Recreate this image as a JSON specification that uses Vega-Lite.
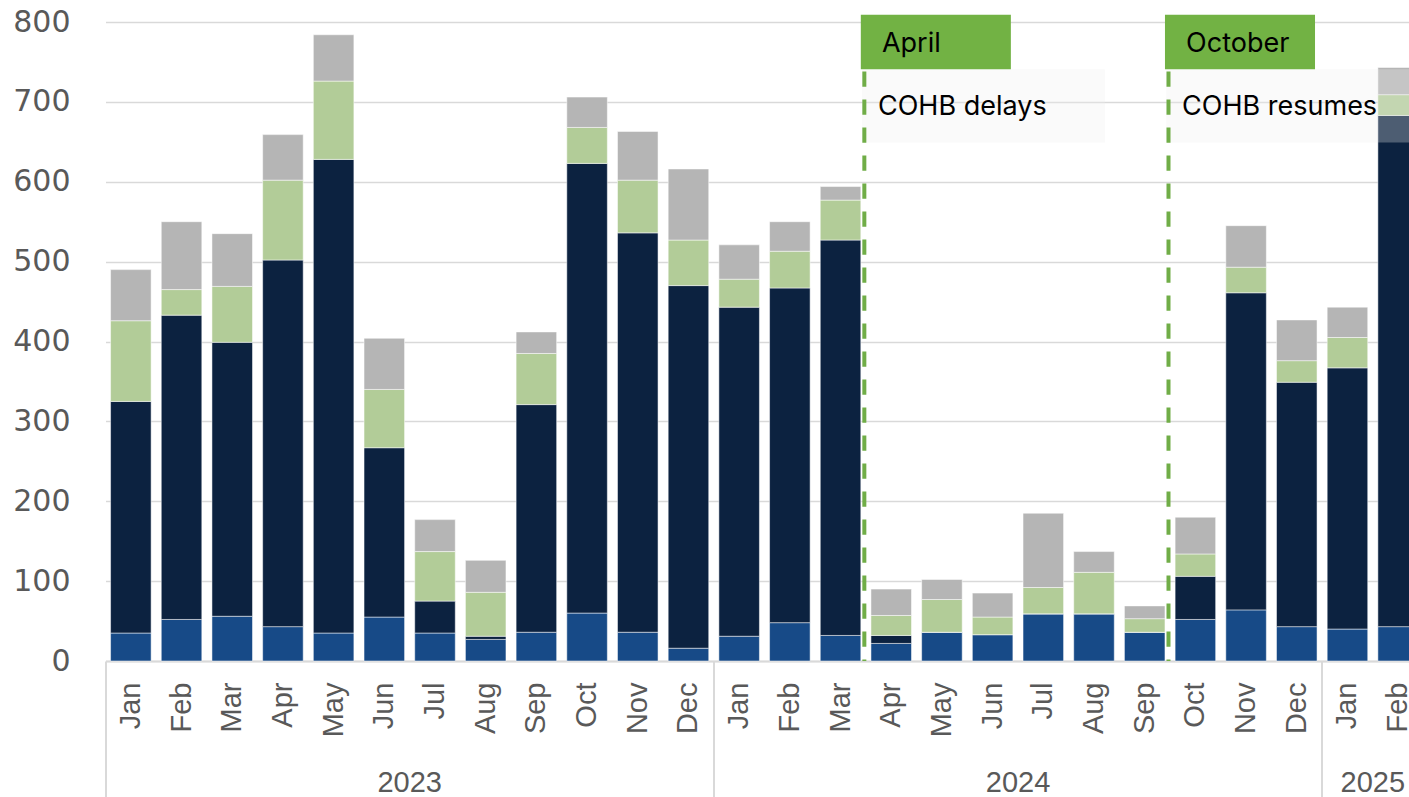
{
  "$schema": "https://vega.github.io/schema/vega-lite/v6.json",
  "width": 1318,
  "height": 639,
  "autosize": {"type": "none"},
  "padding": {"left": 105.5, "top": 22, "right": -14.5, "bottom": 136},
  "background": "white",
  "config": {"view": {"stroke": null}, "font": "Liberation Sans"},
  "datasets": {
    "monthly": [
      {"period": "2023-01", "Series 1": 35, "Series 2": 290, "Series 3": 101, "Series 4": 64},
      {"period": "2023-02", "Series 1": 52, "Series 2": 381, "Series 3": 32, "Series 4": 85},
      {"period": "2023-03", "Series 1": 56, "Series 2": 343, "Series 3": 70, "Series 4": 66},
      {"period": "2023-04", "Series 1": 43, "Series 2": 459, "Series 3": 100, "Series 4": 57},
      {"period": "2023-05", "Series 1": 35, "Series 2": 593, "Series 3": 98, "Series 4": 58},
      {"period": "2023-06", "Series 1": 55, "Series 2": 212, "Series 3": 73, "Series 4": 64},
      {"period": "2023-07", "Series 1": 35, "Series 2": 40, "Series 3": 62, "Series 4": 40},
      {"period": "2023-08", "Series 1": 27, "Series 2": 4, "Series 3": 55, "Series 4": 40},
      {"period": "2023-09", "Series 1": 36, "Series 2": 285, "Series 3": 64, "Series 4": 27},
      {"period": "2023-10", "Series 1": 60, "Series 2": 563, "Series 3": 45, "Series 4": 38},
      {"period": "2023-11", "Series 1": 36, "Series 2": 500, "Series 3": 66, "Series 4": 61},
      {"period": "2023-12", "Series 1": 16, "Series 2": 454, "Series 3": 57, "Series 4": 89},
      {"period": "2024-01", "Series 1": 31, "Series 2": 412, "Series 3": 35, "Series 4": 43},
      {"period": "2024-02", "Series 1": 48, "Series 2": 419, "Series 3": 46, "Series 4": 37},
      {"period": "2024-03", "Series 1": 32, "Series 2": 495, "Series 3": 50, "Series 4": 17},
      {"period": "2024-04", "Series 1": 22, "Series 2": 10, "Series 3": 25, "Series 4": 33},
      {"period": "2024-05", "Series 1": 36, "Series 2": 0, "Series 3": 41, "Series 4": 25},
      {"period": "2024-06", "Series 1": 33, "Series 2": 0, "Series 3": 22, "Series 4": 30},
      {"period": "2024-07", "Series 1": 59, "Series 2": 0, "Series 3": 33, "Series 4": 93},
      {"period": "2024-08", "Series 1": 59, "Series 2": 0, "Series 3": 52, "Series 4": 26},
      {"period": "2024-09", "Series 1": 36, "Series 2": 0, "Series 3": 17, "Series 4": 16},
      {"period": "2024-10", "Series 1": 52, "Series 2": 54, "Series 3": 28, "Series 4": 46},
      {"period": "2024-11", "Series 1": 64, "Series 2": 397, "Series 3": 32, "Series 4": 52},
      {"period": "2024-12", "Series 1": 43, "Series 2": 306, "Series 3": 27, "Series 4": 51},
      {"period": "2025-01", "Series 1": 40, "Series 2": 327, "Series 3": 38, "Series 4": 38},
      {"period": "2025-02", "Series 1": 43, "Series 2": 640, "Series 3": 26, "Series 4": 34}
    ],
    "notes": [
      {"start": "2024-04", "labelEnd": "2024-06", "boxEnd": "2024-08", "label": "April", "note": "COHB delays"},
      {"start": "2024-10", "labelEnd": "2024-12", "boxEnd": "2025-02", "label": "October", "note": "COHB resumes"}
    ]
  },
  "resolve": {"axis": {"x": "independent"}},
  "layer": [
    {
      "data": {"name": "monthly"},
      "transform": [{"fold": ["Series 1", "Series 2", "Series 3", "Series 4"], "as": ["series", "value"]}],
      "mark": {"type": "bar", "stroke": "#ffffff", "strokeOpacity": 0.5, "strokeWidth": 1},
      "encoding": {
        "x": {
          "field": "period", "type": "ordinal",
          "scale": {"paddingInner": 0.2, "paddingOuter": 0.1},
          "axis": {
            "orient": "bottom", "title": null, "grid": false, "ticks": false,
            "domainColor": "#d9d9d9", "domainWidth": 2,
            "labelExpr": "['Jan','Feb','Mar','Apr','May','Jun','Jul','Aug','Sep','Oct','Nov','Dec'][toNumber(substring(datum.value,5,7))-1]",
            "labelAngle": -90, "labelAlign": "right", "labelBaseline": "middle",
            "labelFontSize": 29, "labelColor": "#595959", "labelPadding": 21,
            "labelOverlap": false, "labelBound": false, "labelLimit": 300
          }
        },
        "y": {
          "field": "value", "type": "quantitative", "stack": "zero",
          "scale": {"domain": [0, 800], "nice": false, "zero": true},
          "axis": {
            "title": null, "values": [0, 100, 200, 300, 400, 500, 600, 700, 800],
            "grid": true, "gridColor": "#d9d9d9", "gridWidth": 1.5,
            "domain": false, "ticks": false, "labelFont": "DejaVu Sans",
            "labelFontSize": 30, "labelColor": "#595959", "labelPadding": 35.5
          }
        },
        "color": {
          "field": "series", "type": "nominal", "legend": null,
          "scale": {"domain": ["Series 1", "Series 2", "Series 3", "Series 4"], "range": ["#174a87", "#0c2240", "#b2cc98", "#b5b5b5"]}
        },
        "order": {"field": "series", "sort": "ascending"}
      }
    },
    {
      "data": {"name": "notes"},
      "mark": {"type": "rect", "fill": "#eeeeee", "opacity": 0.29, "clip": false},
      "encoding": {
        "x": {
          "field": "start", "type": "ordinal", "bandPosition": -0.22,
          "axis": {
            "orient": "bottom", "values": ["2023-07", "2024-07", "2025-02"],
            "labelOffset": -25.3,
            "labelExpr": "substring(datum.value,0,4)", "labelAngle": 0, "labelAlign": "center",
            "labelBaseline": "alphabetic", "labelPadding": 130, "labelFontSize": 29,
            "labelColor": "#595959", "ticks": false, "domain": false, "grid": false, "title": null,
            "labelOverlap": false, "labelFlush": false, "labelBound": false
          }
        },
        "x2": {"field": "boxEnd", "bandPosition": 0.77},
        "y": {"datum": 741},
        "y2": {"datum": 649}
      }
    },
    {
      "data": {"name": "notes"},
      "mark": {"type": "rule", "color": "#70ad47", "strokeWidth": 4, "strokeDash": [15.3, 12.7]},
      "encoding": {
        "x": {
          "field": "start", "type": "ordinal", "bandPosition": -0.163,
          "axis": {
            "orient": "bottom", "values": ["2023-01", "2024-01", "2025-01"], "bandPosition": -0.125,
            "labels": false, "ticks": true, "tickSize": 136, "tickColor": "#d9d9d9", "tickWidth": 2,
            "domain": false, "grid": false, "title": null
          }
        },
        "y": {"datum": 738},
        "y2": {"datum": 0}
      }
    },
    {
      "data": {"name": "notes"},
      "mark": {"type": "rect", "fill": "#72b244", "clip": false},
      "encoding": {
        "x": {"field": "start", "type": "ordinal", "bandPosition": -0.25, "axis": null},
        "x2": {"field": "labelEnd", "bandPosition": 0.95},
        "y": {"datum": 809},
        "y2": {"datum": 741}
      }
    },
    {
      "data": {"name": "notes"},
      "mark": {"type": "text", "align": "left", "baseline": "alphabetic", "dx": 11, "font": "Inter", "fontSize": 27, "color": "#000000", "clip": false},
      "encoding": {
        "x": {"field": "start", "type": "ordinal", "bandPosition": 0, "axis": null},
        "y": {"datum": 762.8},
        "text": {"field": "label"}
      }
    },
    {
      "data": {"name": "notes"},
      "mark": {"type": "text", "align": "left", "baseline": "alphabetic", "dx": 7, "font": "Inter", "fontSize": 27, "color": "#000000", "clip": false},
      "encoding": {
        "x": {"field": "start", "type": "ordinal", "bandPosition": 0, "axis": null},
        "y": {"datum": 683.6},
        "text": {"field": "note"}
      }
    }
  ]
}
